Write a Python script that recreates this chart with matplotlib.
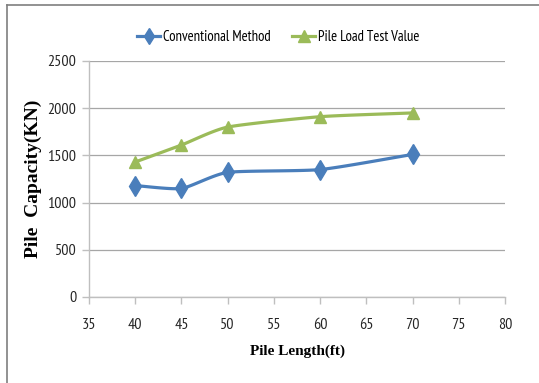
import numpy as np
import matplotlib.pyplot as plt
from matplotlib.lines import Line2D

pile_length = [40, 45, 50, 60, 70]
conventional = [1180, 1150, 1320, 1350, 1510]
load_test = [1430, 1610, 1800, 1910, 1950]

x_ticks = list(range(35, 85, 5))
y_ticks = list(range(0, 3000, 500))

BLUE = "#4a7ebb"
GREEN = "#9bbb59"
GRID = "#a6a6a6"
SANS = ["PT Sans Narrow", "Roboto Condensed", "DejaVu Sans"]
SERIF = ["Liberation Serif", "DejaVu Serif"]


def smooth(xs, ys, n=30):
    # Catmull-Rom style curve through the points, like Excel's smoothed line
    xs = np.asarray(xs, float)
    ys = np.asarray(ys, float)
    px = np.concatenate([[2 * xs[0] - xs[1]], xs, [2 * xs[-1] - xs[-2]]])
    py = np.concatenate([[2 * ys[0] - ys[1]], ys, [2 * ys[-1] - ys[-2]]])
    out_x, out_y = [], []
    t = np.linspace(0, 1, n)
    h00 = 2 * t**3 - 3 * t**2 + 1
    h10 = t**3 - 2 * t**2 + t
    h01 = -2 * t**3 + 3 * t**2
    h11 = t**3 - t**2
    for i in range(1, len(px) - 2):
        for p, out in ((px, out_x), (py, out_y)):
            p0, p1, p2, p3 = p[i - 1], p[i], p[i + 1], p[i + 2]
            m1 = (p2 - p0) / 2 * 0.6
            m2 = (p3 - p1) / 2 * 0.6
            out.extend(h00 * p1 + h10 * m1 + h01 * p2 + h11 * m2)
    return np.array(out_x), np.array(out_y)


fig = plt.figure(figsize=(5.39, 3.83), dpi=100)

# outer frame of the chart area
fig.add_artist(Line2D([7 / 539, 7 / 539], [0, 1 - 5 / 383], transform=fig.transFigure,
                      color="#7f7f7f", lw=1.2))
fig.add_artist(Line2D([7 / 539, 1], [1 - 5 / 383, 1 - 5 / 383], transform=fig.transFigure,
                      color="#7f7f7f", lw=1.2))

ax = fig.add_axes([89 / 539, 1 - 297 / 383, 416 / 539, 236 / 383])

sx, sy = smooth(pile_length, conventional)
ax.plot(sx, sy, color=BLUE, lw=2.3, solid_capstyle="round", zorder=3)
ax.plot(pile_length, conventional, ls="none", marker="d", ms=10, color=BLUE, zorder=4)

sx, sy = smooth(pile_length, load_test)
ax.plot(sx, sy, color=GREEN, lw=2.3, solid_capstyle="round", zorder=3)
ax.plot(pile_length, load_test, ls="none", marker="^", ms=9, color=GREEN, zorder=4)

ax.set_xlim(35, 80)
ax.set_ylim(0, 2500)
ax.set_xticks(x_ticks)
ax.set_yticks(y_ticks)
ax.grid(axis="y", color=GRID, lw=0.9)
ax.set_axisbelow(True)

for side in ("top", "right"):
    ax.spines[side].set_visible(False)
for side in ("left", "bottom"):
    ax.spines[side].set_color("#bfbfbf")
    ax.spines[side].set_linewidth(1.0)

ax.tick_params(axis="both", color="#bfbfbf", length=5, width=1.0, labelsize=11.5,
               labelcolor="#262626")
ax.tick_params(axis="x", pad=10)
ax.tick_params(axis="y", pad=4)
for lbl in ax.get_xticklabels() + ax.get_yticklabels():
    lbl.set_family(SANS)

ax.set_xlabel("Pile Length(ft)", family=SERIF, fontweight="bold", fontsize=11, labelpad=9)
ax.set_ylabel("Pile  Capacity(KN)", family=SERIF, fontweight="bold", fontsize=14, labelpad=4)

handles = [
    Line2D([], [], color=BLUE, lw=2.3, marker="d", ms=8),
    Line2D([], [], color=GREEN, lw=2.3, marker="^", ms=8),
]
fig.legend(handles, ["Conventional Method", "Pile Load Test Value"],
           loc="center", bbox_to_anchor=(278 / 539, 1 - 37 / 383), ncol=2,
           frameon=False, prop={"family": SANS, "size": 10.5},
           handlelength=1.6, handletextpad=0.15, columnspacing=1.5)

fig.savefig("out.png", dpi=100)
